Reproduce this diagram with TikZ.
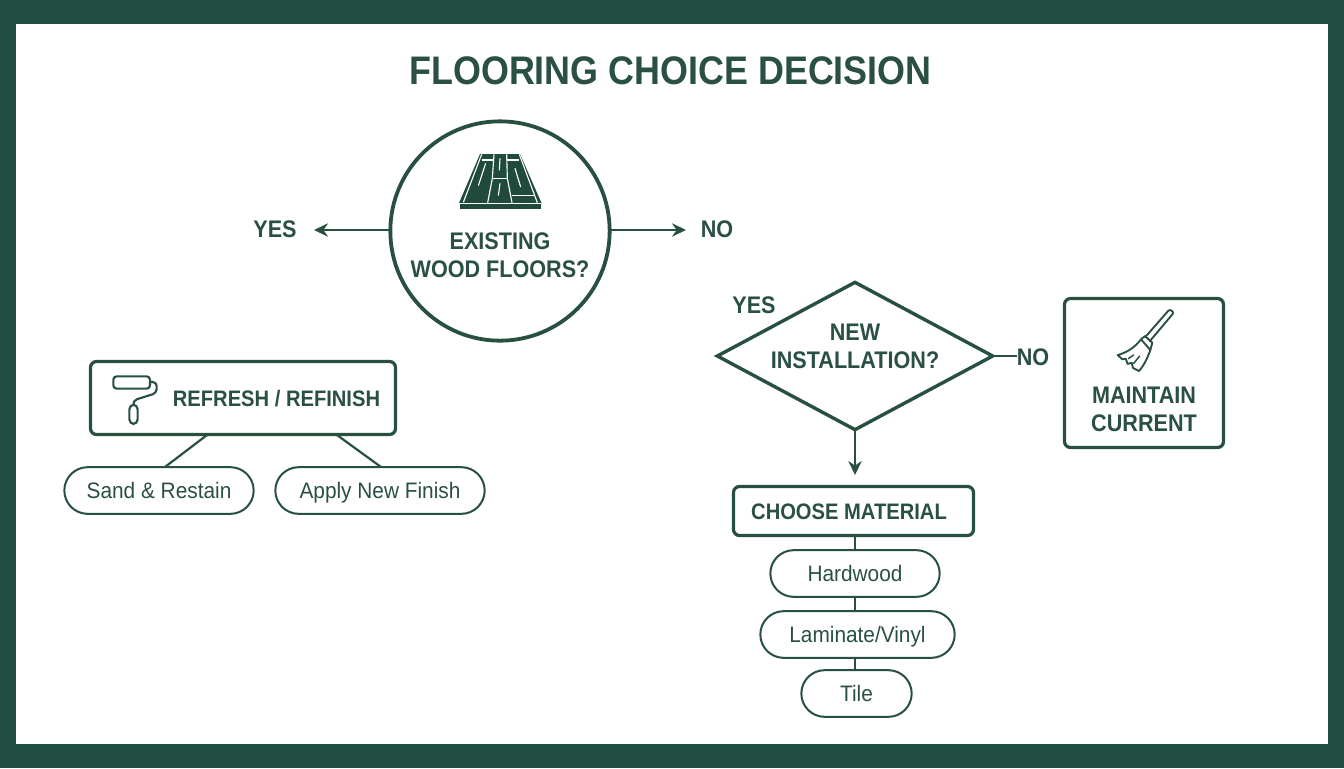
\documentclass[tikz,border=0pt]{standalone}
\usepackage{fontspec}
\setmainfont{Liberation Sans}
\newfontfamily\boldf[FakeStretch=0.9]{Liberation Sans Bold}
\newfontfamily\regf[FakeStretch=0.93]{Liberation Sans}
\usetikzlibrary{arrows.meta,shapes.geometric,shapes.misc}
\definecolor{band}{HTML}{234E42}
\definecolor{ink}{HTML}{28503F}
\definecolor{dark}{HTML}{1F4A3C}
\definecolor{txt}{HTML}{2A5045}
\tikzset{
  px/.style={x=0.75pt,y=-0.75pt},
  ln/.style={draw=ink,line width=#1*0.75pt},
  title/.style={text=txt,font=\boldf\fontsize{29.9}{34}\selectfont,inner sep=0pt},
  boldtxt/.style={text=txt,font=\boldf\fontsize{18}{21}\selectfont,inner sep=0pt,text height=13pt,text depth=0pt},
  boldlines/.style={text=txt,font=\boldf\fontsize{18}{21}\selectfont,inner sep=0pt,align=center},
  boxtxt/.style={text=txt,font=\boldf\fontsize{16.8}{21}\selectfont,inner sep=0pt,text height=12pt,text depth=0pt},
  pill/.style={rounded rectangle,ln=2,fill=white,text=txt,font=\regf\fontsize{16.8}{20}\selectfont,inner sep=0pt,outer sep=0pt,minimum height=35pt,text height=12.2pt,text depth=0pt},
  rbox/.style={rectangle,rounded corners=4.5pt,ln=3.2,fill=white,inner sep=0pt,outer sep=0pt},
  conn/.style={ln=2.2},
  arr/.style={ln=2.2,-{Stealth[length=10.5pt,width=10pt,inset=3.5pt]}},
  iconline/.style={draw=ink,line width=1.6pt,line join=round,line cap=round},
  plank/.style={draw=white,line width=0.85pt}
}
\begin{document}
\begin{tikzpicture}[px]
\useasboundingbox (0,0) rectangle (1344,768);
\fill[band] (0,0) rectangle (1344,768);
\fill[white] (16,24) rectangle (1328,744);
\node[title] (ttl) at (670.5,71) {FLOORING CHOICE DECISION};

% existing floors
\node[circle,ln=3.8,fill=white,minimum size=164.5pt,inner sep=0pt,outer sep=0pt] (q1) at (500,231) {};
\fill[dark] (480,154) -- (520,154) -- (541.5,203) -- (459,203) -- cycle;
\fill[dark] (460,203) rectangle (540.5,208.5);
\begin{scope}[shift={(450,145)},x=0.25pt,y=-0.25pt]
\draw[plank] (28,176) -- (272,176);
\draw[plank] (95,28) -- (40,172);
\draw[plank] (132,28) -- (127,100) -- (113,173);
\draw[plank] (170,28) -- (172,100) -- (186,173);
\draw[plank] (208,28) -- (262,173);
\draw[plank] (97,45) -- (132,45);
\draw[plank] (170,45) -- (207,45);
\draw[plank] (125,100) -- (172,100);
\draw[plank] (186,152) -- (252,152);
\draw[plank] (107,55) -- (85,122);
\draw[plank] (150,40) -- (148,76);
\draw[plank] (195,70) -- (212,126);
\draw[plank] (150,115) -- (145,152);
\end{scope}
\node[boldlines] (q1t) at (500,255.5) {EXISTING\\WOOD FLOORS?};
\node[boldtxt] (yes1) at (275,229) {YES};
\node[boldtxt] (no1) at (717,229) {NO};
\coordinate (yes1e) at (314,230);
\coordinate (no1e) at (686,230);
\draw[arr] (q1.west |- yes1e) -- (yes1e);
\draw[arr] (q1.east |- no1e) -- (no1e);

% refresh
\node[rbox,minimum width=228.75pt,minimum height=54.75pt] (refresh) at (243,398) {};
\node[boxtxt] (refresht) at (276.5,398.5) {REFRESH / REFINISH};
\begin{scope}[shift={(105,368)},x=0.25pt,y=-0.25pt]
\draw[iconline,rounded corners=2.5pt] (25,25) rectangle (135,62);
\draw[iconline,rounded corners=3pt] (135,42) -- (155,42) -- (155,75) -- (85,97) -- (85,110);
\draw[iconline,rounded corners=3.5pt] (73,110) rectangle (98,168);
\end{scope}
\node[pill,minimum width=142pt] (sand) at (159,490.5) {Sand \& Restain};
\node[pill,minimum width=157pt] (apply) at (380,490.5) {Apply New Finish};
\coordinate (r1) at (207,435);
\coordinate (r2) at (337,435);
\coordinate (s1) at (165,467);
\coordinate (a1) at (381,467);
\draw[conn] (r1) -- (s1);
\draw[conn] (r2) -- (a1);

% new installation
\node[diamond,ln=3.4,fill=white,aspect=1.865,minimum width=206.5pt,minimum height=110.5pt,inner sep=0pt,outer sep=0pt] (q2) at (855,356) {};
\node[boldlines] (q2t) at (855,346) {NEW\\INSTALLATION?};
\node[boldtxt] (yes2) at (754,305) {YES};
\node[boldtxt] (no2) at (1033,357) {NO};
\draw[conn] (q2.east) -- (no2.west |- q2.east);

% maintain
\node[rbox,minimum width=119.25pt,minimum height=111.75pt] (keep) at (1144,373) {};
\node[boldlines] (keept) at (1144,409) {MAINTAIN\\CURRENT};
\begin{scope}[shift={(1105,300)},x=0.25pt,y=-0.25pt]
\draw[iconline,line width=1.4pt] (120,112) -- (190,32) .. controls (196,26) and (208,36) .. (203,42) -- (134,124);
\draw[iconline,line width=1.4pt] (108,118) -- (120,108) -- (142,128) -- (136,150);
\draw[iconline,line width=1.4pt] (108,118) .. controls (90,142) and (65,158) .. (38,165) -- (52,178) -- (62,176) -- (68,192) -- (80,188) -- (84,204) -- (102,213) .. controls (118,195) and (128,172) .. (136,150) -- (108,118);
\draw[iconline,line width=1.1pt] (70,176) -- (86,165);
\draw[iconline,line width=1.1pt] (86,190) -- (104,168);
\end{scope}

% material
\node[rbox,minimum width=180pt,minimum height=36.75pt] (mat) at (853.5,511) {};
\node[boxtxt] (matt) at (849,511.5) {CHOOSE MATERIAL};
\node[pill,minimum width=127pt] (hard) at (855,573.5) {Hardwood};
\node[pill,minimum width=145.75pt] (lam) at (857.5,634.5) {Laminate/Vinyl};
\node[pill,minimum width=82.75pt] (tile) at (856.5,693.5) {Tile};
\coordinate (q2d) at (855,475);
\draw[arr] (q2.south) -- (q2d);
\draw[conn] (mat.south -| hard.north) -- (hard.north);
\draw[conn] (hard.south) -- (hard.south |- lam.north);
\draw[conn] (hard.south |- lam.south) -- (hard.south |- tile.north);
\end{tikzpicture}
\end{document}
